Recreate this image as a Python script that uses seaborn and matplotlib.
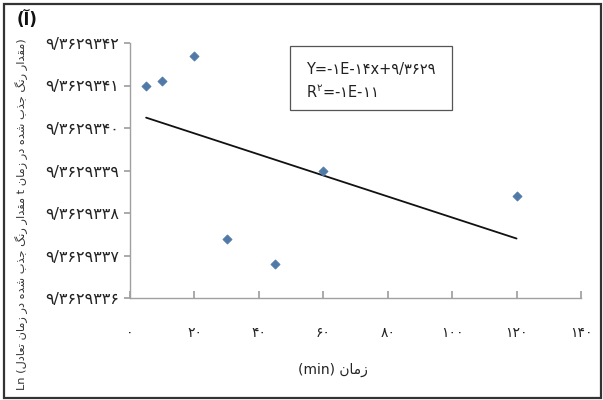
import numpy as np
import pandas as pd
import matplotlib
matplotlib.use("Agg")
import matplotlib.pyplot as plt
import seaborn as sns
from matplotlib.patches import Rectangle

# ---- data ----
time_min = [5, 10, 20, 30, 45, 60, 120]
ln_ratio = [9.36293410, 9.36293411, 9.36293417, 9.36293374,
            9.36293368, 9.36293390, 9.36293384]
x_ticks = [0, 20, 40, 60, 80, 100, 120, 140]
x_tick_labels = ["۰", "۲۰", "۴۰", "۶۰", "۸۰", "۱۰۰", "۱۲۰", "۱۴۰"]
y_ticks = [9.3629336, 9.3629337, 9.3629338, 9.3629339, 9.3629340, 9.3629341, 9.3629342]
y_tick_labels = ["۹/۳۶۲۹۳۳۶", "۹/۳۶۲۹۳۳۷", "۹/۳۶۲۹۳۳۸", "۹/۳۶۲۹۳۳۹",
                 "۹/۳۶۲۹۳۴۰", "۹/۳۶۲۹۳۴۱", "۹/۳۶۲۹۳۴۲"]
# Persian text, written in visual order with Arabic presentation forms
title_txt = "(ﺁ)"
xlabel_txt = "(min) ﻥﺎﻣﺯ"
ylabel_txt = ("Ln (ﻝﺩﺎﻌﺗ ﻥﺎﻣﺯ ﺭﺩ ﻩﺪﺷ ﺏﺬﺟ ﮓﻧﺭ ﺭﺍﺪﻘﻣ "
              "t ﻥﺎﻣﺯ ﺭﺩ ﻩﺪﺷ ﺏﺬﺟ ﮓﻧﺭ ﺭﺍﺪﻘﻣ)")
eq_line1 = "Y=-۱E-۱۴x+۹/۳۶۲۹"
eq_line2 = "R$^{۲}$=-۱E-۱۱"

df = pd.DataFrame({"t": time_min, "y": ln_ratio})

sns.set_theme(style="white")
plt.rcParams["font.family"] = ["DejaVu Sans"]

fig = plt.figure(figsize=(6.03, 4.0), dpi=100)
fig.patch.set_facecolor("white")
ax = fig.add_axes([130 / 603, 1 - 298 / 400, 451 / 603, 255 / 400])

sns.scatterplot(data=df, x="t", y="y", marker="D", s=22, color="#5079A8",
                edgecolor="#5079A8", linewidth=0.5, ax=ax, zorder=3)
sns.regplot(data=df, x="t", y="y", scatter=False, ci=None, truncate=True,
            line_kws={"color": "#111111", "linewidth": 1.3}, ax=ax)

ax.set_xlim(0, 140)
ax.set_ylim(y_ticks[0], y_ticks[-1])
ax.set_xticks(x_ticks)
ax.set_xticklabels(x_tick_labels, fontsize=10)
ax.set_yticks(y_ticks)
ax.set_yticklabels(y_tick_labels, fontsize=11.5)
ax.set_xlabel("")
ax.set_ylabel("")

for side in ["top", "right"]:
    ax.spines[side].set_visible(False)
for side in ["left", "bottom"]:
    ax.spines[side].set_color("#A0A0A0")
    ax.spines[side].set_linewidth(1.0)

ax.tick_params(axis="y", direction="out", length=4, color="#A0A0A0",
               left=True, pad=4, labelcolor="#222222")
ax.tick_params(axis="x", direction="in", length=5, color="#A0A0A0",
               bottom=True, pad=20, labelcolor="#222222")

# equation box
ax.add_patch(Rectangle((0.355, 0.737), 0.359, 0.251, transform=ax.transAxes,
                       facecolor="white", edgecolor="#555555", linewidth=0.9,
                       zorder=4))
ax.text(0.39, 0.895, eq_line1, transform=ax.transAxes, fontsize=10.5,
        va="center", ha="left", color="#222222", zorder=5)
ax.text(0.39, 0.805, eq_line2, transform=ax.transAxes, fontsize=10.5,
        va="center", ha="left", color="#222222", zorder=5)

fig.text(333 / 603, 1 - 370 / 400, xlabel_txt, fontsize=10, ha="center",
         va="center", color="#222222")
fig.text(22 / 603, 1 - 214 / 400, ylabel_txt, fontsize=8.2, rotation=90,
         ha="center", va="center", color="#333333")
fig.text(27 / 603, 1 - 20 / 400, title_txt, fontsize=12, fontweight="bold",
         ha="center", va="center", color="#111111")

# outer frame
fig.patches.append(Rectangle((4 / 603, 2 / 400), 597 / 603, 394 / 400,
                             transform=fig.transFigure, fill=False,
                             edgecolor="#333333", linewidth=1.6))

fig.savefig("out.png", dpi=100, facecolor="white")
